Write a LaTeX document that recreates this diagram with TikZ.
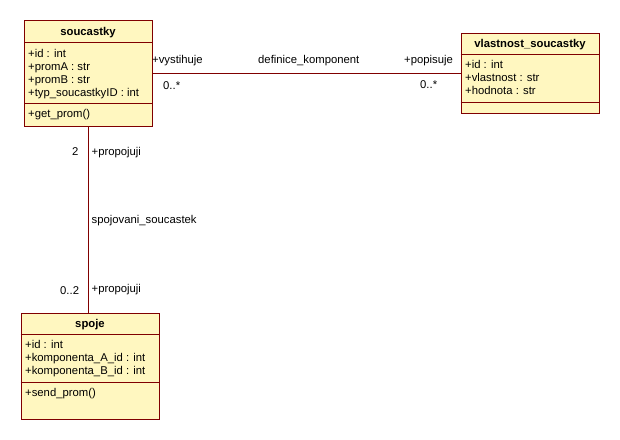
\documentclass[tikz,border=0pt]{standalone}
\usepackage{fontspec}
\setmainfont{Liberation Sans}
\usepackage{tikz}
\definecolor{rosefill}{RGB}{255,247,192}
\definecolor{roseline}{RGB}{128,0,0}

\begin{document}
\begin{tikzpicture}[x=1pt,y=-1pt,
  cls/.style={draw=roseline,fill=rosefill,line width=1pt,anchor=north west,inner sep=0pt},
  ttl/.style={anchor=base,inner sep=0pt,font=\fontsize{11.3}{13}\selectfont\bfseries},
  txt/.style={anchor=base west,inner sep=0pt,font=\fontsize{11.3}{13}\selectfont},
  assoc/.style={draw=roseline,line width=1pt}]
\useasboundingbox (0,0) rectangle (620,439);
% classes
\node[cls,minimum width=128pt,minimum height=106pt] (S) at (24,20) {};
\node[cls,minimum width=138.5pt,minimum height=79.5pt] (V) at (460.5,33.25) {};
\node[cls,minimum width=138.5pt,minimum height=106pt] (P) at (20.5,312.5) {};
\draw[roseline,line width=1pt] (24,42.5) -- (152,42.5) (24,103) -- (152,103);
\draw[roseline,line width=1pt] (460.5,54.5) -- (599,54.5) (460.5,102.5) -- (599,102.5);
\draw[roseline,line width=1pt] (20.5,334) -- (159,334) (20.5,382) -- (159,382);
% soucastky
\node[ttl] (St) at (88,35) {soucastky};
\node[txt] (S1) at (28,57) {+id : int};
\node[txt] (S2) at (28,70) {+promA : str};
\node[txt] (S3) at (28,83) {+promB : str};
\node[txt] (S4) at (28,96) {+typ\_soucastkyID : int};
\node[txt] (Sm) at (28,117) {+get\_prom()};
% vlastnost_soucastky
\node[ttl] (Vt) at (530,47.5) {vlastnost\_soucastky};
\node[txt] (V1) at (465,68.5) {+id : int};
\node[txt] (V2) at (465,81.5) {+vlastnost : str};
\node[txt] (V3) at (465,94.5) {+hodnota : str};
% spoje
\node[ttl] (Pt) at (90,327.5) {spoje};
\node[txt] (P1) at (25,348.5) {+id : int};
\node[txt] (P2) at (25,361.5) {+komponenta\_A\_id : int};
\node[txt] (P3) at (25,374.5) {+komponenta\_B\_id : int};
\node[txt] (Pm) at (25,396.5) {+send\_prom()};
% associations
\draw[assoc] (S.east) -- (S.east -| V.west);
\draw[assoc] (S.south) -- (S.south |- P.north);
\node[txt] (Sr) at (152,63.5) {+vystihuje};
\node[txt] (Dk) at (258,63) {definice\_komponent};
\node[txt] (Sn) at (163,89.5) {0..*};
\node[txt] (Vr) at (404,63.5) {+popisuje};
\node[txt] (Vn) at (420,88.5) {0..*};
\node[txt] (Pn1) at (72,155) {2};
\node[txt] (Pr1) at (91.5,155.5) {+propojuji};
\node[txt] (Sp) at (91.5,223.5) {spojovani\_soucastek};
\node[txt] (Pn2) at (60,294.5) {0..2};
\node[txt] (Pr2) at (91.5,292) {+propojuji};
\end{tikzpicture}
\end{document}
